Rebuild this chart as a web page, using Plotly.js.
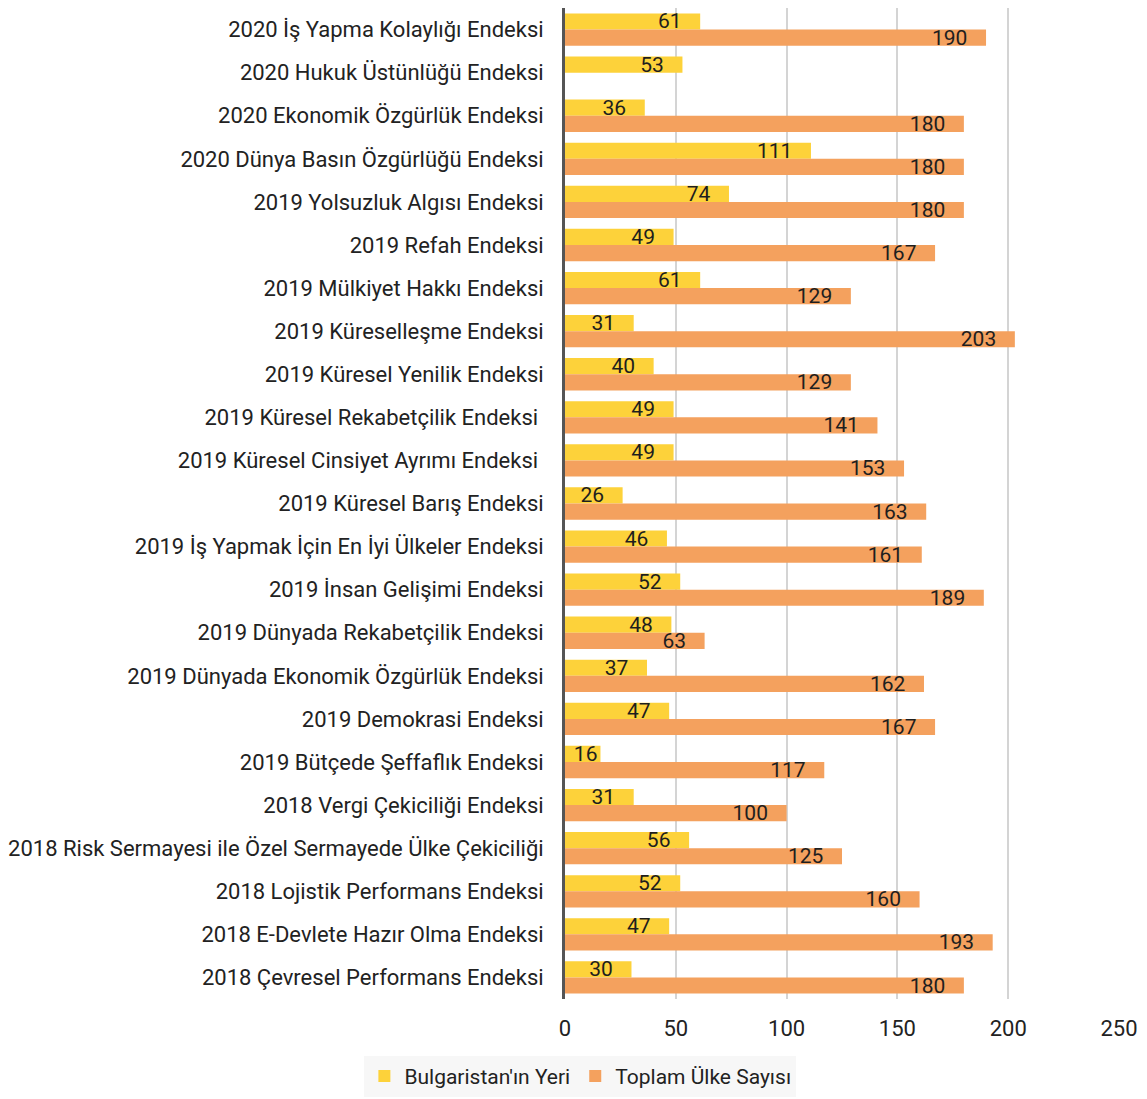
<!DOCTYPE html>
<html>
<head>
<meta charset="utf-8">
<script src="https://cdn.plot.ly/plotly-3.0.1.min.js"></script>
<style>html,body{margin:0;padding:0;background:#fff;}#chart{width:1147px;height:1099px;}</style>
</head>
<body>
<div id="chart"></div>
<script>
var categories = [
  "2020 İş Yapma Kolaylığı Endeksi",
  "2020 Hukuk Üstünlüğü Endeksi",
  "2020 Ekonomik Özgürlük Endeksi",
  "2020 Dünya Basın Özgürlüğü Endeksi",
  "2019 Yolsuzluk Algısı Endeksi",
  "2019 Refah Endeksi",
  "2019 Mülkiyet Hakkı Endeksi",
  "2019 Küreselleşme Endeksi",
  "2019 Küresel Yenilik Endeksi",
  "2019 Küresel Rekabetçilik Endeksi ",
  "2019 Küresel Cinsiyet Ayrımı Endeksi ",
  "2019 Küresel Barış Endeksi",
  "2019 İş Yapmak İçin En İyi Ülkeler Endeksi",
  "2019 İnsan Gelişimi Endeksi",
  "2019 Dünyada Rekabetçilik Endeksi",
  "2019 Dünyada Ekonomik Özgürlük Endeksi",
  "2019 Demokrasi Endeksi",
  "2019 Bütçede Şeffaflık Endeksi",
  "2018 Vergi Çekiciliği Endeksi",
  "2018 Risk Sermayesi ile Özel Sermayede Ülke Çekiciliği",
  "2018 Lojistik Performans Endeksi",
  "2018 E-Devlete Hazır Olma Endeksi",
  "2018 Çevresel Performans Endeksi"
];
var bulgariaRank = [61, 53, 36, 111, 74, 49, 61, 31, 40, 49, 49, 26, 46, 52, 48, 37, 47, 16, 31, 56, 52, 47, 30];
var totalCountries = [190, null, 180, 180, 180, 167, 129, 203, 129, 141, 153, 163, 161, 189, 63, 162, 167, 117, 100, 125, 160, 193, 180];
var seriesNames = ["Bulgaristan'ın Yeri", "Toplam Ülke Sayısı"];
var xTicks = [0, 50, 100, 150, 200, 250];

var FONT = "Roboto, 'Noto Sans', sans-serif";
function label(v) {
  if (v == null) return '';
  return String(v) + (v < 20 ? '' : '\u00a0\u00a0\u00a0');
}

var common = {
  type: 'bar', orientation: 'h', y: categories,
  textposition: 'inside', insidetextanchor: 'end', constraintext: 'none',
  textangle: 0,
  textfont: {family: FONT, size: 21, color: '#1e1e1e'},
  cliponaxis: false, hoverinfo: 'x+y'
};
var t1 = Object.assign({}, common, {
  x: bulgariaRank, name: seriesNames[0],
  text: bulgariaRank.map(label),
  marker: {color: '#FDD23A'}
});
var t2 = Object.assign({}, common, {
  x: totalCountries, name: seriesNames[1],
  text: totalCountries.map(label),
  marker: {color: '#F4A15E'}
});

var layout = {
  width: 1147, height: 1099,
  margin: {l: 565, r: 28, t: 8, b: 100},
  paper_bgcolor: '#fff', plot_bgcolor: '#fff',
  font: {family: FONT, size: 22, color: '#222'},
  barmode: 'group', bargap: 0.25, bargroupgap: 0,
  showlegend: true,
  legend: {
    orientation: 'h', xref: 'container', yref: 'container',
    x: 0.506, xanchor: 'center', y: 0.002, yanchor: 'bottom',
    bgcolor: '#f7f7f7', font: {family: FONT, size: 21, color: '#222'},
    itemwidth: 30, traceorder: 'normal'
  },
  xaxis: {
    range: [0, 250], tickvals: xTicks, ticktext: xTicks.map(String),
    showgrid: true, gridcolor: '#d4d4d4', gridwidth: 2,
    zeroline: false, showline: false,
    ticks: 'outside', ticklen: 10, tickcolor: 'rgba(0,0,0,0)',
    tickfont: {family: FONT, size: 22, color: '#222'}
  },
  yaxis: {
    type: 'category', autorange: 'reversed',
    showgrid: false, zeroline: false,
    showline: true, linecolor: '#555', linewidth: 3,
    ticks: 'outside', ticklen: 14, tickcolor: 'rgba(0,0,0,0)',
    tickfont: {family: FONT, size: 22, color: '#222'}
  }
};

Plotly.newPlot('chart', [t1, t2], layout, {displayModeBar: false, staticPlot: true});
</script>
</body>
</html>
